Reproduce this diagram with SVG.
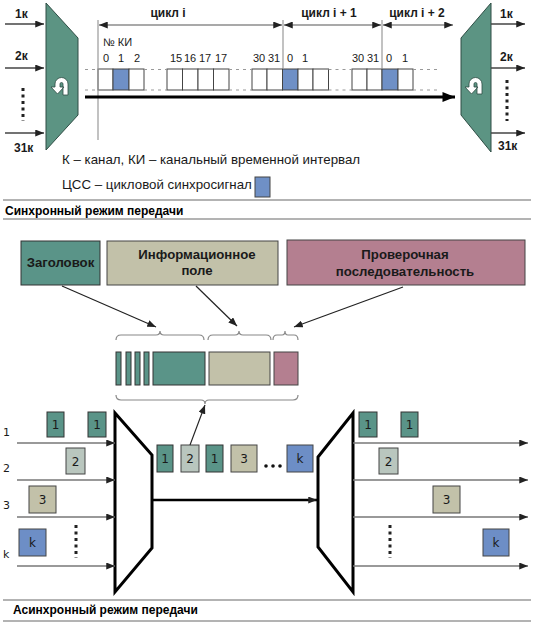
<svg xmlns="http://www.w3.org/2000/svg" width="534" height="623" viewBox="0 0 534 623">
<defs>
<style>
 text { font-family: "Liberation Sans", Arial, sans-serif; fill:#1a1a1a; }
 .lbl { font-size: 12px; font-weight: bold; }
 .num { font-size: 11px; }
 .leg { font-size: 13.3px; }
 .cap { font-size: 12px; font-weight: bold; fill:#000; }
 .hdr { font-size: 13.2px; font-weight: bold; text-anchor: middle; }
 .pk { font-family: "DejaVu Sans", sans-serif; font-size: 12px; text-anchor: middle; }
 .il { font-family: "DejaVu Sans", sans-serif; font-size: 11px; }
 .slot { fill:#fff; stroke:#444; stroke-width:1; }
 .sync { fill:#6f90c6; stroke:#444; stroke-width:1; }
 .dash { stroke:#999; stroke-width:1; stroke-dasharray:3 4; fill:none; }
 .vline { stroke:#999; stroke-width:1.2; }
 .cyc { stroke:#555; stroke-width:1.2; fill:none; marker-start:url(#ah); marker-end:url(#ah); }
 .in { stroke:#444; stroke-width:1.3; marker-end:url(#ah); }
 .ln { stroke:#777; stroke-width:1.3; marker-end:url(#ah); }
 .tp { fill:#5c9483; stroke:#2e4d44; stroke-width:1; }
 .mx { fill:#fff; stroke:#000; stroke-width:3; stroke-linejoin:miter; }
 .teal { fill:#5a9488; stroke:#333; }
 .gray { fill:#b9c6be; stroke:#444; }
 .khaki { fill:#c2c1a9; stroke:#444; }
 .blue { fill:#6d8ec6; stroke:#444; }
 .mauve { fill:#b47f90; stroke:#444; }
 .brace { fill:none; stroke:#888; stroke-width:1.2; }
 .sep { stroke:#9a9a9a; stroke-width:1.5; }
 .dots { stroke:#222; stroke-width:3; stroke-dasharray:3 3.5; }
 .ptr { stroke:#222; stroke-width:1.2; marker-end:url(#ah); }
 .icon { fill:#fff; stroke:#2e4d44; stroke-width:0.8; }
</style>
<marker id="ah" viewBox="0 0 10 8" refX="10" refY="4" markerWidth="9" markerHeight="7" markerUnits="userSpaceOnUse" orient="auto-start-reverse"><path d="M0,0 L10,4 L0,8 z" fill="#222"/></marker>
<marker id="ahb" viewBox="0 0 10 8" refX="10" refY="4" markerWidth="15" markerHeight="10" markerUnits="userSpaceOnUse" orient="auto"><path d="M0,0 L10,4 L0,8 z" fill="#000"/></marker>
</defs>
<rect width="534" height="623" fill="#fff"/>

<!-- ===== Synchronous mode ===== -->
<g id="mux-left">
 <polygon class="tp" points="46,3 78,38 78,115 46,150"/>
 <path class="icon" d="M68,95 L68,84 A6.5,6.5 0 0 0 55,84 L55,87 L51,87 L57.5,94 L64,87 L60,87 L60,84 A1.5,1.5 0 0 1 63,84 L63,95 Z"/>
</g>
<g id="inputs-left">
 <text class="lbl" x="15" y="18">1к</text>
 <text class="lbl" x="15" y="60">2к</text>
 <text class="lbl" x="14" y="152">31к</text>
 <line class="dots" x1="23" y1="88" x2="23" y2="121"/>
</g>
<g id="mux-right">
 <polygon class="tp" points="461,38 491,3 491,152 461,115"/>
 <path class="icon" d="M482,94 L482,84 A6.5,6.5 0 0 0 469,84 L469,87 L465,87 L471.5,94 L478,87 L474,87 L474,84 A1.5,1.5 0 0 1 477,84 L477,94 Z"/>
</g>
<g id="outputs-right">
 <text class="lbl" x="500" y="18">1к</text>
 <text class="lbl" x="500" y="61">2к</text>
 <text class="lbl" x="498" y="150">31к</text>
 <line class="dots" x1="507" y1="80" x2="507" y2="121"/>
</g>

<g id="cycles">
 <text class="lbl" x="168" y="17" text-anchor="middle">цикл i</text>
 <text class="lbl" x="329" y="17" text-anchor="middle">цикл i + 1</text>
 <text class="lbl" x="417" y="17" text-anchor="middle">цикл i + 2</text>
 <text class="num" x="103" y="46">№ КИ</text>
</g>

<g id="slot-numbers" class="num">
 <text class="num" x="106" y="62" text-anchor="middle">0</text>
 <text class="num" x="121" y="62" text-anchor="middle">1</text>
 <text class="num" x="137" y="62" text-anchor="middle">2</text>
 <text class="num" x="176" y="62" text-anchor="middle">15</text>
 <text class="num" x="190" y="62" text-anchor="middle">16</text>
 <text class="num" x="205" y="62" text-anchor="middle">17</text>
 <text class="num" x="221" y="62" text-anchor="middle">17</text>
 <text class="num" x="259" y="62" text-anchor="middle">30</text>
 <text class="num" x="274" y="62" text-anchor="middle">31</text>
 <text class="num" x="290" y="62" text-anchor="middle">0</text>
 <text class="num" x="305" y="62" text-anchor="middle">1</text>
 <text class="num" x="358" y="62" text-anchor="middle">30</text>
 <text class="num" x="373" y="62" text-anchor="middle">31</text>
 <text class="num" x="389" y="62" text-anchor="middle">0</text>
 <text class="num" x="405" y="62" text-anchor="middle">1</text>
</g>

<g id="slots">
 <rect class="slot" x="98" y="69" width="15" height="21"/>
 <rect class="sync" x="113" y="69" width="16" height="21"/>
 <rect class="slot" x="129" y="69" width="15" height="21"/>
 <rect class="slot" x="167" y="69" width="15.5" height="21"/>
 <rect class="slot" x="182.5" y="69" width="15.5" height="21"/>
 <rect class="slot" x="198" y="69" width="15.5" height="21"/>
 <rect class="slot" x="213.5" y="69" width="15.5" height="21"/>
 <rect class="slot" x="252" y="69" width="15" height="21"/>
 <rect class="slot" x="267" y="69" width="15.5" height="21"/>
 <rect class="sync" x="282.5" y="69" width="15.5" height="21"/>
 <rect class="slot" x="298" y="69" width="15" height="21"/>
 <rect class="slot" x="313" y="69" width="15.5" height="21"/>
 <rect class="slot" x="352" y="69" width="15" height="21"/>
 <rect class="slot" x="367" y="69" width="15" height="21"/>
 <rect class="sync" x="382" y="69" width="16" height="21"/>
 <rect class="slot" x="398" y="69" width="15" height="21"/>
</g>

<g id="connectors-sync">
 <line class="in" x1="5" y1="24" x2="44" y2="24"/>
 <line class="in" x1="5" y1="68" x2="44" y2="68"/>
 <line class="in" x1="5" y1="133" x2="44" y2="133"/>
 <line class="in" x1="491" y1="24" x2="525" y2="24"/>
 <line class="in" x1="491" y1="68" x2="525" y2="68"/>
 <line class="in" x1="491" y1="133" x2="525" y2="133"/>
 <line class="vline" x1="98" y1="20" x2="98" y2="140"/>
 <line class="vline" x1="283" y1="20" x2="283" y2="69"/>
 <line class="vline" x1="382" y1="20" x2="382" y2="69"/>
 <line class="cyc" x1="99" y1="25" x2="282" y2="25"/>
 <line class="cyc" x1="284" y1="25" x2="381" y2="25"/>
 <line class="cyc" x1="383" y1="25" x2="453" y2="25"/>
 <path class="dash" d="M85,69.5 H98 M144,69.5 H167 M229,69.5 H252 M328.5,69.5 H352 M413,69.5 H437 M85,90 H98 M144,90 H167 M229,90 H252 M328.5,90 H352 M413,90 H437"/>
 <line x1="85" y1="97" x2="455" y2="97" stroke="#000" stroke-width="3" marker-end="url(#ahb)"/>
</g>

<g id="legend">
 <text class="leg" x="62" y="164">К – канал, КИ – канальный временной интервал</text>
 <text class="leg" x="62" y="189">ЦСС – цикловой синхросигнал</text>
 <rect class="sync" x="255" y="177" width="15" height="20"/>
</g>

<g id="caption-sync">
 <line class="sep" x1="3" y1="200" x2="531" y2="200"/>
 <text class="cap" x="5" y="215">Синхронный режим передачи</text>
 <line class="sep" x1="3" y1="219" x2="531" y2="219"/>
</g>

<!-- ===== Asynchronous mode ===== -->
<g id="hdr-header">
 <rect class="teal" x="21" y="241" width="79" height="44"/>
 <text class="hdr" x="60.5" y="267">Заголовок</text>
</g>
<g id="hdr-info">
 <rect class="khaki" x="107" y="241" width="171" height="44"/>
 <text class="hdr" x="197" y="259">Информационное</text>
 <text class="hdr" x="197" y="275">поле</text>
</g>
<g id="hdr-check">
 <rect class="mauve" x="287" y="240" width="238" height="45"/>
 <text class="hdr" x="405" y="259">Проверочная</text>
 <text class="hdr" x="405" y="276">последовательность</text>
</g>

<g id="packet">
 <rect class="teal" x="116" y="352" width="5" height="33"/>
 <rect class="teal" x="126" y="352" width="5" height="33"/>
 <rect class="teal" x="135" y="352" width="5" height="33"/>
 <rect class="teal" x="144" y="352" width="5" height="33"/>
 <rect class="teal" x="153" y="352" width="52" height="33"/>
 <rect class="khaki" x="209" y="352" width="61" height="33"/>
 <rect class="mauve" x="274" y="352" width="24" height="33"/>
 <path class="brace" d="M116,340 Q116,335 121,335 L156,335 Q160,335 160,331 Q160,335 164,335 L199,335 Q204,335 204,340"/>
 <path class="brace" d="M208,340 Q208,335 213,335 L235,335 Q239,335 239,331 Q239,335 243,335 L266,335 Q271,335 271,340"/>
 <path class="brace" d="M273,340 Q273,335 277,335 L282,335 Q285,335 285,331 Q285,335 288,335 L294,335 Q298,335 298,340"/>
 <path class="brace" d="M116,395 Q116,400 121,400 L201,400 Q205,400 205,404 Q205,400 209,400 L293,400 Q298,400 298,395"/>
</g>

<g id="mux2-left">
 <polygon class="mx" points="115,413 152,455 152,548 115,592"/>
</g>
<g id="mux2-right">
 <polygon class="mx" points="318,457 353,413 353,592 318,547"/>
</g>

<g id="inputs2">
 <text class="il" x="3" y="436">1</text>
 <text class="il" x="3" y="472">2</text>
 <text class="il" x="3" y="509">3</text>
 <text class="il" x="3" y="558">k</text>
 <rect class="teal" x="47" y="412" width="17" height="25"/><text class="pk" x="55.5" y="429">1</text>
 <rect class="teal" x="88" y="412" width="18" height="25"/><text class="pk" x="97" y="429">1</text>
 <rect class="gray" x="66" y="448" width="19" height="26"/><text class="pk" x="75.5" y="466">2</text>
 <rect class="khaki" x="29" y="486" width="27" height="27"/><text class="pk" x="42.5" y="504">3</text>
 <rect class="blue" x="19" y="529" width="27" height="27"/><text class="pk" x="32.5" y="547">k</text>
 <line class="dots" x1="76" y1="525" x2="76" y2="558"/>
</g>

<g id="stream">
 <rect class="teal" x="157" y="445" width="16" height="27"/><text class="pk" x="165" y="463">1</text>
 <rect class="gray" x="181" y="445" width="18" height="27"/><text class="pk" x="190" y="463">2</text>
 <rect class="teal" x="206" y="445" width="17" height="27"/><text class="pk" x="214.5" y="463">1</text>
 <rect class="khaki" x="231" y="445" width="26" height="27"/><text class="pk" x="244" y="463">3</text>
 <circle cx="266" cy="466" r="1.8" fill="#111"/><circle cx="273" cy="466" r="1.8" fill="#111"/><circle cx="280" cy="466" r="1.8" fill="#111"/>
 <rect class="blue" x="287" y="445" width="26" height="27"/><text class="pk" x="300" y="463">k</text>
</g>

<g id="outputs2">
 <rect class="teal" x="359" y="412" width="18" height="25"/><text class="pk" x="368" y="429">1</text>
 <rect class="teal" x="401" y="412" width="17" height="25"/><text class="pk" x="409.5" y="429">1</text>
 <rect class="gray" x="379" y="448" width="19" height="26"/><text class="pk" x="388.5" y="466">2</text>
 <rect class="khaki" x="433" y="486" width="27" height="27"/><text class="pk" x="446.5" y="504">3</text>
 <rect class="blue" x="483" y="529" width="26" height="27"/><text class="pk" x="496" y="547">k</text>
 <line class="dots" x1="390" y1="525" x2="390" y2="558"/>
</g>

<g id="connectors-async">
 <line class="ptr" x1="62" y1="286" x2="156" y2="327"/>
 <line class="ptr" x1="196" y1="286" x2="237" y2="326"/>
 <line class="ptr" x1="403" y1="287" x2="294" y2="327"/>
 <line class="ptr" x1="190" y1="445" x2="205" y2="405"/>
 <line class="ln" x1="17" y1="443" x2="115" y2="443"/>
 <line class="ln" x1="17" y1="480" x2="115" y2="480"/>
 <line class="ln" x1="17" y1="517" x2="115" y2="517"/>
 <line class="ln" x1="17" y1="566" x2="115" y2="566"/>
 <line class="ln" x1="353" y1="443" x2="528" y2="443"/>
 <line class="ln" x1="353" y1="480" x2="528" y2="480"/>
 <line class="ln" x1="353" y1="517" x2="528" y2="517"/>
 <line class="ln" x1="353" y1="566" x2="528" y2="566"/>
 <line x1="152" y1="500" x2="317" y2="500" stroke="#000" stroke-width="2.5" marker-end="url(#ah)"/>
</g>

<g id="caption-async">
 <line class="sep" x1="3" y1="600" x2="531" y2="600"/>
 <text class="cap" x="13" y="614">Асинхронный режим передачи</text>
 <line class="sep" x1="3" y1="621" x2="531" y2="621"/>
</g>
</svg>
